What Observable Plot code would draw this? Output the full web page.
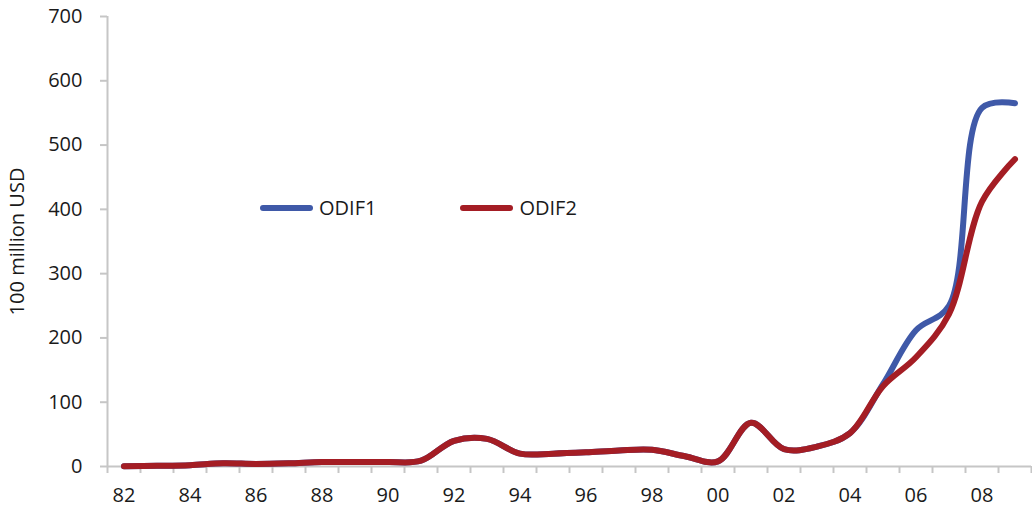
<!DOCTYPE html>
<html>
<head>
<meta charset="utf-8">
<script src="https://cdn.jsdelivr.net/npm/d3@7"></script>
<script src="https://cdn.jsdelivr.net/npm/@observablehq/plot@0.6"></script>
<style>
  html, body { margin: 0; padding: 0; background: #fff; }
  #wrap { position: relative; width: 1032px; height: 509px; font-family: "Open Sans", sans-serif; }
  #legend { position: absolute; left: 260px; top: 194px; display: flex; align-items: center; font-size: 20px; color: #1a1a1a; }
  .item { display: flex; align-items: center; }
  .swatch { width: 53px; height: 6px; border-radius: 3px; margin-right: 6px; }
</style>
</head>
<body>
<div id="wrap"></div>
<script>
// Categories (years, shown as 2-digit labels)
const years = [1982, 1983, 1984, 1985, 1986, 1987, 1988, 1989, 1990, 1991,
               1992, 1993, 1994, 1995, 1996, 1997, 1998, 1999, 2000, 2001,
               2002, 2003, 2004, 2005, 2006, 2007, 2008, 2009];
// 100 million USD
const odif1 = [0.5, 1, 2, 5, 4, 5, 7, 7, 7, 9,
               40, 43, 20, 20, 22, 25, 26, 16, 8, 68,
               27, 31, 52, 128, 212, 250, 558, 565];
const odif2 = [0.5, 1, 2, 5, 4, 5, 7, 7, 7, 9,
               40, 43, 20, 20, 22, 25, 26, 16, 8, 68,
               27, 31, 52, 125, 170, 237, 412, 478];
const yTicks = [0, 100, 200, 300, 400, 500, 600, 700];
const labelYears = [1982, 1984, 1986, 1988, 1990, 1992, 1994, 1996, 1998, 2000, 2002, 2004, 2006, 2008];
const seriesNames = ["ODIF1", "ODIF2"];
const seriesColors = ["#3f59a8", "#a41d24"];

const data = [];
years.forEach((y, i) => {
  data.push({year: y, value: odif1[i], series: seriesNames[0]});
  data.push({year: y, value: odif2[i], series: seriesNames[1]});
});
// category boundaries for tick marks
const boundaries = years.map(y => y - 0.5).concat([years[years.length - 1] + 0.5]);
const axisColor = "#c6c6c6";

const chart = Plot.plot({
  width: 1032,
  height: 509,
  marginLeft: 107,
  marginRight: 1,
  marginTop: 16,
  marginBottom: 43,
  style: {fontFamily: "'Open Sans', sans-serif", fontSize: "20px", color: "#1a1a1a", background: "#fff"},
  x: {type: "linear", domain: [boundaries[0], boundaries[boundaries.length - 1]]},
  y: {domain: [0, 700]},
  color: {domain: seriesNames, range: seriesColors},
  marks: [
    Plot.axisY({ticks: yTicks, tickSize: 7, tickPadding: 18, stroke: axisColor, strokeWidth: 2, strokeOpacity: 1,
                label: "100 million USD", labelAnchor: "center", labelArrow: "none", labelOffset: 98,
                fill: "#1a1a1a", tickFormat: d => String(d)}),
    Plot.axisX({ticks: boundaries, tickSize: 7, stroke: axisColor, strokeWidth: 2, strokeOpacity: 1, tickFormat: () => "", label: null}),
    Plot.axisX({ticks: labelYears, tickSize: 0, tickPadding: 21, tickFormat: d => String(d).slice(2), label: null, fill: "#1a1a1a"}),
    Plot.ruleY([0], {stroke: axisColor, strokeWidth: 2}),
    Plot.ruleX([boundaries[0]], {stroke: axisColor, strokeWidth: 2}),
    Plot.line(data, {x: "year", y: "value", z: "series", stroke: "series", strokeWidth: 6,
                     strokeLinecap: "round", strokeLinejoin: "round", curve: "catmull-rom"})
  ]
});
const wrap = document.getElementById("wrap");
wrap.appendChild(chart);

const legend = document.createElement("div");
legend.id = "legend";
seriesNames.forEach((name, i) => {
  const item = document.createElement("div");
  item.className = "item";
  item.style.marginRight = i === 0 ? "84px" : "0";
  const sw = document.createElement("div");
  sw.className = "swatch";
  sw.style.background = seriesColors[i];
  const t = document.createElement("span");
  t.textContent = name;
  item.appendChild(sw);
  item.appendChild(t);
  legend.appendChild(item);
});
wrap.appendChild(legend);
</script>
</body>
</html>
